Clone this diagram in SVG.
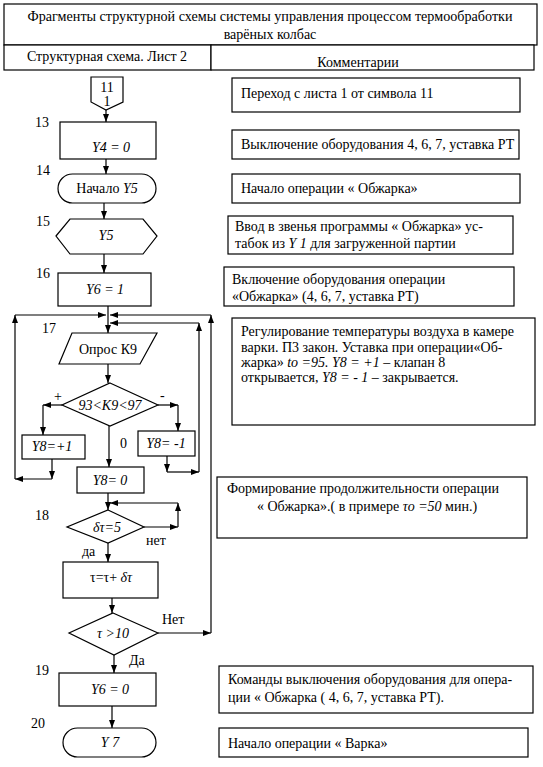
<svg xmlns="http://www.w3.org/2000/svg" width="543" height="767" viewBox="0 0 543 767" font-family="'Liberation Serif', 'DejaVu Serif', serif">
<style>
text{font-family:'Liberation Serif','Tinos','DejaVu Serif',serif;font-size:14px;fill:#000}
.it{font-style:italic}
.c{text-anchor:middle}
.box{fill:#fff;stroke:#000;stroke-width:1.2}
.ln{fill:none;stroke:#000;stroke-width:1.2}
.t14{font-size:14px}
</style>
<defs>
<marker id="ah" markerUnits="userSpaceOnUse" markerWidth="8" markerHeight="6" refX="8" refY="3" orient="auto">
<path d="M0,0 L8,3 L0,6 z" fill="#000"/>
</marker>
</defs>
<rect width="543" height="767" fill="#fff"/>
<g id="header">
<rect class="box" x="4" y="4" width="533" height="41"/>
<text class="c t14" x="270" y="21" textLength="485" lengthAdjust="spacingAndGlyphs">Фрагменты структурной схемы системы управления процессом термообработки</text>
<text class="c t14" x="270" y="39">варёных колбас</text>
<rect class="box" x="4" y="45" width="207" height="25"/>
<rect class="box" x="211" y="45" width="323" height="25"/>
<text class="c t14" x="107" y="61">Структурная схема. Лист 2</text>
<text class="c" x="358" y="67">Комментарии</text>
</g>
<g id="connectors">
<line class="ln" x1="106" y1="110" x2="106" y2="122" marker-end="url(#ah)"/>
<line class="ln" x1="106" y1="159" x2="106" y2="174" marker-end="url(#ah)"/>
<line class="ln" x1="104" y1="203" x2="104" y2="219" marker-end="url(#ah)"/>
<line class="ln" x1="104" y1="254" x2="104" y2="273" marker-end="url(#ah)"/>
<line class="ln" x1="108" y1="306" x2="108" y2="333" marker-end="url(#ah)"/>
<line class="ln" x1="108" y1="364" x2="108" y2="383" marker-end="url(#ah)"/>
<line class="ln" x1="62" y1="405" x2="43" y2="405" marker-end="url(#ah)"/>
<line class="ln" x1="43" y1="405" x2="43" y2="435" marker-end="url(#ah)"/>
<line class="ln" x1="158" y1="405" x2="178" y2="405" marker-end="url(#ah)"/>
<line class="ln" x1="178" y1="405" x2="178" y2="431" marker-end="url(#ah)"/>
<line class="ln" x1="109" y1="426" x2="109" y2="467" marker-end="url(#ah)"/>
<line class="ln" x1="52" y1="459" x2="52" y2="479" marker-end="url(#ah)"/>
<line class="ln" x1="52" y1="479" x2="15" y2="479" marker-end="url(#ah)"/>
<line class="ln" x1="15" y1="479" x2="15" y2="315" marker-end="url(#ah)"/>
<line class="ln" x1="15" y1="315" x2="106" y2="315" marker-end="url(#ah)"/>
<line class="ln" x1="167" y1="456" x2="167" y2="472" marker-end="url(#ah)"/>
<line class="ln" x1="167" y1="472" x2="199" y2="472" marker-end="url(#ah)"/>
<line class="ln" x1="199" y1="472" x2="199" y2="323" marker-end="url(#ah)"/>
<line class="ln" x1="199" y1="323" x2="110" y2="323" marker-end="url(#ah)"/>
<line class="ln" x1="108" y1="493" x2="108" y2="510" marker-end="url(#ah)"/>
<line class="ln" x1="144" y1="527" x2="178" y2="527" marker-end="url(#ah)"/>
<line class="ln" x1="178" y1="527" x2="178" y2="503" marker-end="url(#ah)"/>
<line class="ln" x1="178" y1="503" x2="110" y2="503" marker-end="url(#ah)"/>
<line class="ln" x1="108" y1="543" x2="108" y2="562" marker-end="url(#ah)"/>
<line class="ln" x1="112" y1="598" x2="112" y2="613" marker-end="url(#ah)"/>
<line class="ln" x1="158" y1="633" x2="211" y2="633" marker-end="url(#ah)"/>
<line class="ln" x1="211" y1="633" x2="211" y2="315" marker-end="url(#ah)"/>
<line class="ln" x1="211" y1="315" x2="110" y2="315" marker-end="url(#ah)"/>
<line class="ln" x1="114" y1="655" x2="114" y2="673" marker-end="url(#ah)"/>
<line class="ln" x1="112" y1="706" x2="112" y2="728" marker-end="url(#ah)"/>
<text x="54" y="401">+</text>
<text x="160" y="400">-</text>
<text x="120" y="448">0</text>
<text x="146" y="545">нет</text>
<text x="82" y="556">да</text>
<text x="162" y="624">Нет</text>
<text x="129" y="665">Да</text>
</g>
<g id="labels">
<text x="35" y="127">13</text>
<text x="36" y="175">14</text>
<text x="36" y="226">15</text>
<text x="36" y="278">16</text>
<text x="42" y="333">17</text>
<text x="35" y="520">18</text>
<text x="35" y="675">19</text>
<text x="31" y="728">20</text>
</g>
<g id="n11">
<path class="box" d="M91,77 L123,77 L123,102 L106,110 L91,102 Z"/>
<text class="c" x="107" y="92">11</text>
<text class="c" x="107" y="106">1</text>
</g>
<g id="n13">
<rect class="box" x="60" y="122" width="96" height="37"/>
<text class="c it" x="111" y="152">Y4 = 0</text>
</g>
<g id="n14">
<rect class="box" x="58" y="174" width="98" height="29" rx="14.5"/>
<text class="c" x="107" y="193">Начало <tspan class="it">Y5</tspan></text>
</g>
<g id="n15">
<path class="box" d="M56,236 L70,219 L143,219 L157,236 L143,254 L70,254 Z"/>
<text class="c it" x="106" y="240">Y5</text>
</g>
<g id="n16">
<rect class="box" x="58" y="273" width="93" height="33"/>
<text class="c it" x="105" y="294">Y6 = 1</text>
</g>
<g id="n17">
<path class="box" d="M72,333 L157,333 L140,364 L59,364 Z"/>
<text class="c" x="108" y="354">Опрос К9</text>
</g>
<g id="d17">
<path class="box" d="M110,383 L158,405 L110,426 L62,405 Z"/>
<text class="c it" x="110" y="410">93&lt;K9&lt;97</text>
</g>
<g id="y8p">
<rect class="box" x="22" y="435" width="63" height="24"/>
<text class="c it" x="52" y="451">Y8=+1</text>
</g>
<g id="y8m">
<rect class="box" x="138" y="431" width="57" height="25"/>
<text class="c it" x="166" y="448">Y8= -1</text>
</g>
<g id="y80">
<rect class="box" x="77" y="467" width="67" height="26"/>
<text class="c it" x="110" y="485">Y8= 0</text>
</g>
<g id="d18">
<path class="box" d="M108,510 L144,527 L108,543 L67,527 Z"/>
<text class="c it" x="107" y="532">δτ=5</text>
</g>
<g id="n18b">
<rect class="box" x="63" y="562" width="95" height="36"/>
<text x="90" y="582">τ=τ+ <tspan class="it">δτ</tspan></text>
</g>
<g id="d18b">
<path class="box" d="M113,613 L158,633 L114,655 L69,633 Z"/>
<text class="c it" x="113" y="638">τ &gt;10</text>
</g>
<g id="n19">
<rect class="box" x="59" y="673" width="97" height="33"/>
<text class="c it" x="110" y="694">Y6 = 0</text>
</g>
<g id="n20">
<rect class="box" x="63" y="728" width="93" height="29" rx="14.5"/>
<text class="c it" x="110" y="747">Y 7</text>
</g>
<g id="c1">
<rect class="box" x="232" y="78" width="288" height="34"/>
<text x="241" y="98">Переход с листа 1 от символа 11</text>
</g>
<g id="c2">
<rect class="box" x="232" y="130" width="287" height="29"/>
<text x="241" y="149">Выключение оборудования 4, 6, 7, уставка РТ</text>
</g>
<g id="c3">
<rect class="box" x="232" y="174" width="288" height="29"/>
<text x="241" y="193">Начало операции « Обжарка»</text>
</g>
<g id="c4">
<rect class="box" x="228" y="216" width="285" height="38"/>
<text x="235" y="231">Ввод в звенья программы  « Обжарка»  ус-</text>
<text x="235" y="248">табок  из <tspan class="it">Y 1</tspan> для загруженной партии</text>
</g>
<g id="c5">
<rect class="box" x="224" y="267" width="290" height="39"/>
<text x="232" y="284">Включение оборудования операции</text>
<text x="232" y="301">«Обжарка» (4, 6, 7, уставка РТ)</text>
</g>
<g id="c6">
<rect class="box" x="232" y="318" width="303" height="107"/>
<text x="241" y="336">Регулирование температуры воздуха в камере</text>
<text x="241" y="352">варки. П3 закон. Уставка при операции«Об-</text>
<text x="241" y="367">жарка» <tspan class="it">to =95.  Y8 = +1</tspan> – клапан 8</text>
<text x="241" y="382">открывается, <tspan class="it">Y8 = - 1</tspan> – закрывается.</text>
</g>
<g id="c7">
<rect class="box" x="217" y="477" width="310" height="61"/>
<text x="227" y="493">Формирование продолжительности операции</text>
<text x="257" y="511">« Обжарка».( в примере  <tspan class="it">τo  =50</tspan> мин.)</text>
</g>
<g id="c8">
<rect class="box" x="219" y="666" width="314" height="47"/>
<text x="228" y="684">Команды выключения оборудования для опера-</text>
<text x="228" y="702">ции « Обжарка ( 4, 6, 7, уставка РТ).</text>
</g>
<g id="c9">
<rect class="box" x="219" y="728" width="309" height="29"/>
<text x="228" y="748">Начало операции  « Варка»</text>
</g>
</svg>
